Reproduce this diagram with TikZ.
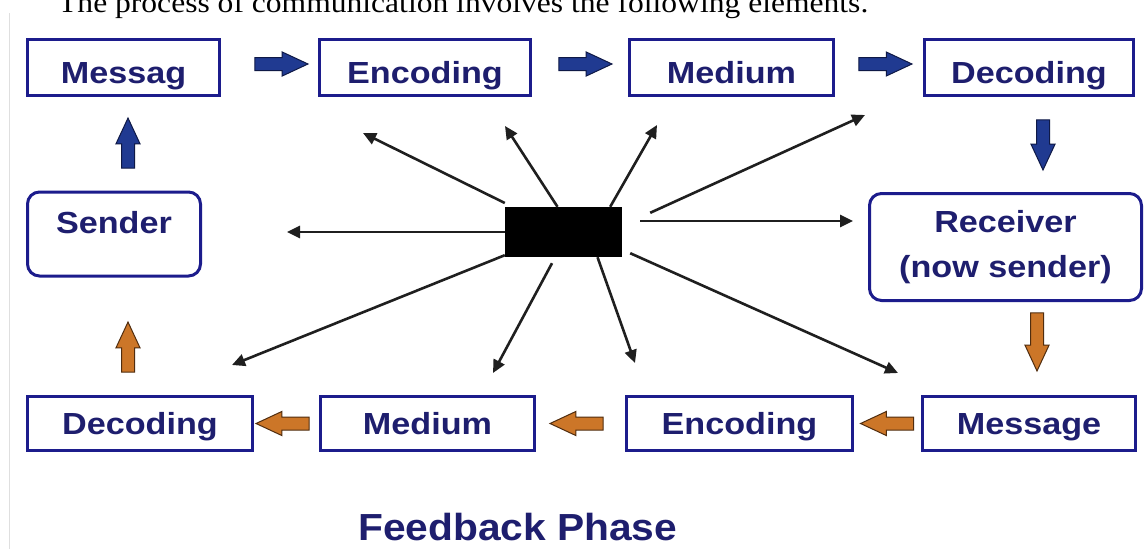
\documentclass[tikz,border=0pt]{standalone}
\usepackage{fontspec}
\setmainfont{Liberation Sans}
\newfontfamily\boxfont[FakeStretch=1.12]{Liberation Sans}
\newfontfamily\titfont[FakeStretch=1.08]{Liberation Sans}
\newfontfamily\hdrfont[FakeStretch=1.1]{Liberation Serif}
\usetikzlibrary{arrows.meta,shapes.arrows}
\definecolor{boxc}{RGB}{28,28,140}
\definecolor{txtc}{RGB}{30,30,110}
\definecolor{barf}{RGB}{32,58,145}
\definecolor{bard}{RGB}{15,25,70}
\definecolor{oarf}{RGB}{204,118,40}
\definecolor{oard}{RGB}{80,45,15}
\begin{document}
\begin{tikzpicture}[x=1pt,y=-1pt,
  box/.style={draw=boxc, line width=3.5pt, text=txtc,
    font=\boxfont\bfseries\fontsize{30.5}{45}\selectfont,
    inner sep=0pt, align=center},
  toprow/.style={box, minimum height=56pt, text height=31pt, text depth=0pt},
  botrow/.style={box, minimum height=54pt, text height=22pt, text depth=0pt},
  rbox/.style={box, rounded corners=12pt, line width=3pt},
  barrow/.style={single arrow, draw=bard, fill=barf, line width=1pt,
    minimum height=53pt, text height=12pt, text depth=0pt, text width=0pt,
    single arrow head extend=5.5pt, single arrow tip angle=50, inner sep=0pt},
  oarrow/.style={barrow, draw=oard, fill=oarf},
  ray/.style={draw=black!88, line width=2.6pt, -{Triangle[length=13pt,width=12pt]}}
]
\useasboundingbox (0,0) rectangle (1147,549);
\clip (0,0) rectangle (1147,549);
\fill[white] (0,0) rectangle (1147,549);
\draw[gray!25, line width=1.5pt] (9.5,13) -- (9.5,549);

% header
\node[anchor=base west, inner sep=0pt, font=\hdrfont\fontsize{28.7}{34}\selectfont] (hdr) at (58,12)
  {The process of communication involves the following elements.};

% top row
\node[toprow, minimum width=192pt] (msg) at (123.5,67.5) {Messag};
\node[toprow, minimum width=211pt] (enc) at (425,67.5) {Encoding};
\node[toprow, minimum width=204pt] (med) at (731.5,67.5) {Medium};
\node[toprow, minimum width=209pt] (dec) at (1029,67.5) {Decoding};

% side boxes
\node[rbox, minimum width=173pt, minimum height=84pt, text height=22pt, text depth=24pt] (snd) at (114,234) {Sender};
\node[rbox, minimum width=272pt, minimum height=107pt] (rcv) at (1005.5,247) {Receiver\\(now sender)};

% bottom row
\node[botrow, minimum width=225pt] (dec2) at (140,423.5) {Decoding};
\node[botrow, minimum width=214pt] (med2) at (427.5,423.5) {Medium};
\node[botrow, minimum width=226pt] (enc2) at (739.5,423.5) {Encoding};
\node[botrow, minimum width=213pt] (msg2) at (1029,423.5) {Message};

% title
\node[anchor=base west, inner sep=0pt, text=txtc, font=\titfont\bfseries\fontsize{37.7}{44}\selectfont] (fb) at (358,540) {Feedback Phase};

% block arrows (blue, forward phase)
\node[barrow] (b1) at (274.5,64) {};
\node[barrow] (b2) at (578.5,64) {};
\node[barrow] (b3) at (878.5,64) {};
\node[barrow, rotate=-90, minimum height=50pt] (b4) at (1043,138) {};
\node[barrow, rotate=90, minimum height=50pt] (b5) at (128,150) {};

% block arrows (orange, feedback phase)
\node[oarrow, rotate=-90, minimum height=58pt] (o1) at (1037,335) {};
\node[oarrow, rotate=180] (o2) at (894,423.5) {};
\node[oarrow, rotate=180] (o3) at (583.5,423.5) {};
\node[oarrow, rotate=180] (o4) at (289.5,423.5) {};
\node[oarrow, rotate=90, minimum height=50pt] (o5) at (128,354) {};

% central block
\node[fill=black, minimum width=117pt, minimum height=50pt, inner sep=0pt] (ctr) at (563.5,232) {};

% ray tips
\coordinate (t1) at (363,133);
\coordinate (t2) at (505,126);
\coordinate (t3) at (657,125);
\coordinate (t4) at (865,115);
\coordinate (t5) at (853,221);
\coordinate (t6) at (287,232);
\coordinate (t7) at (232,365);
\coordinate (t8) at (493,373);
\coordinate (t9) at (635,363);
\coordinate (t10) at (898,373);

\draw[ray] ([yshift=29pt]ctr.west) -- (t1);
\draw[ray] ([xshift=-6pt]ctr.north) -- (t2);
\draw[ray] ([xshift=-12pt]ctr.north east) -- (t3);
\draw[ray] ([xshift=28pt,yshift=-6pt]ctr.north east) -- (t4);
\draw[ray] ([xshift=18pt,yshift=11pt]ctr.east) -- (t5);
\draw[ray] (ctr.west) -- (t6);
\draw[ray] ([yshift=2pt]ctr.south west) -- (t7);
\draw[ray] ([xshift=-11.5pt,yshift=-6pt]ctr.south) -- (t8);
\draw[ray] ([xshift=34pt]ctr.south) -- (t9);
\draw[ray] ([xshift=8pt,yshift=4pt]ctr.south east) -- (t10);
\end{tikzpicture}
\end{document}
